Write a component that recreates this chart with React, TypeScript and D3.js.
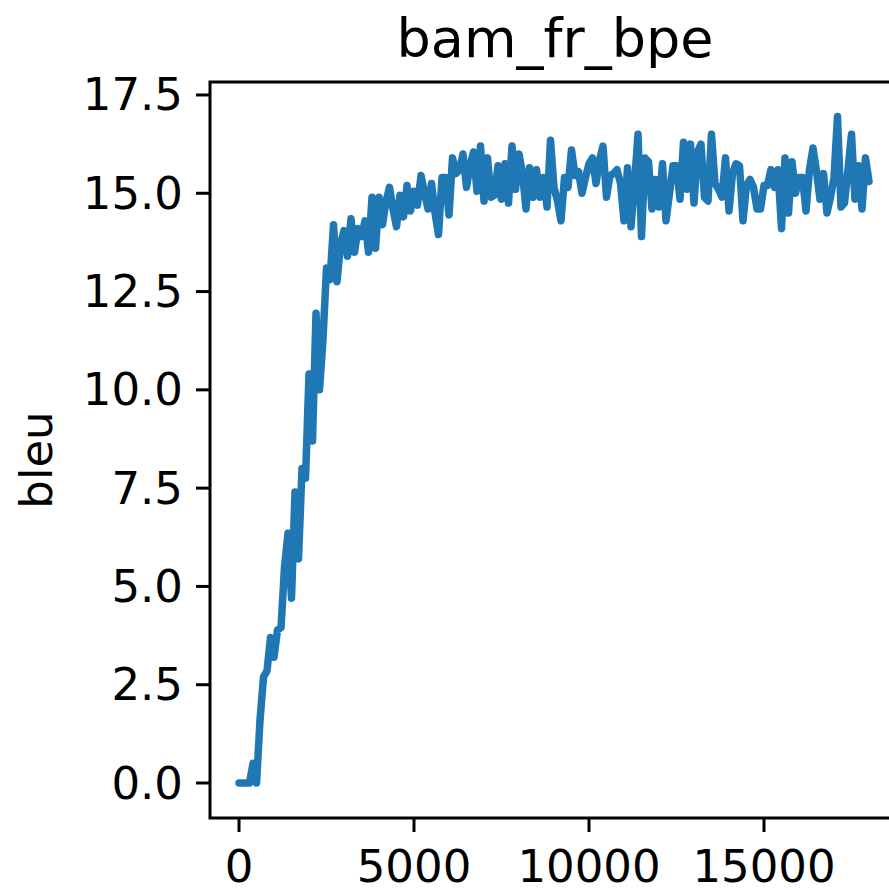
import React from "react";
import * as d3 from "d3";

const title = "bam_fr_bpe";
const yLabel = "bleu";
const xTicks = [0, 5000, 10000, 15000];
const yTicks = [0, 2.5, 5, 7.5, 10, 12.5, 15, 17.5];

const steps = [
  0, 100, 200, 300, 400, 500, 600, 700, 800, 900,
  1000, 1100, 1200, 1300, 1400, 1500, 1600, 1700, 1800, 1900,
  2000, 2100, 2200, 2300, 2400, 2500, 2600, 2700, 2800, 2900,
  3000, 3100, 3200, 3300, 3400, 3500, 3600, 3700, 3800, 3900,
  4000, 4100, 4200, 4300, 4400, 4500, 4600, 4700, 4800, 4900,
  5000, 5100, 5200, 5300, 5400, 5500, 5600, 5700, 5800, 5900,
  6000, 6100, 6200, 6300, 6400, 6500, 6600, 6700, 6800, 6900,
  7000, 7100, 7200, 7300, 7400, 7500, 7600, 7700, 7800, 7900,
  8000, 8100, 8200, 8300, 8400, 8500, 8600, 8700, 8800, 8900,
  9000, 9100, 9200, 9300, 9400, 9500, 9600, 9700, 9800, 9900,
  10000, 10100, 10200, 10300, 10400, 10500, 10600, 10700, 10800, 10900,
  11000, 11100, 11200, 11300, 11400, 11500, 11600, 11700, 11800, 11900,
  12000, 12100, 12200, 12300, 12400, 12500, 12600, 12700, 12800, 12900,
  13000, 13100, 13200, 13300, 13400, 13500, 13600, 13700, 13800, 13900,
  14000, 14100, 14200, 14300, 14400, 14500, 14600, 14700, 14800, 14900,
  15000, 15100, 15200, 15300, 15400, 15500, 15600, 15700, 15800, 15900,
  16000, 16100, 16200, 16300, 16400, 16500, 16600, 16700, 16800, 16900,
  17000, 17100, 17200, 17300, 17400, 17500, 17600, 17700, 17800, 17900,
  18000,
];

const bleu = [
  0, 0, 0, 0, 0.5, 0.0, 1.6, 2.7, 2.85, 3.7,
  3.2, 3.9, 3.95, 5.5, 6.35, 4.7, 7.4, 5.7, 8.0, 7.75,
  10.4, 8.7, 11.95, 10.0, 11.3, 13.1, 12.8, 14.2, 12.75, 13.7,
  14.05, 13.4, 14.35, 13.5, 14.1, 13.9, 14.3, 13.5, 14.9, 13.6,
  14.9, 14.2, 14.8, 15.15, 14.6, 14.15, 14.95, 14.4, 15.2, 14.55,
  15.05, 14.7, 15.45, 15.0, 14.6, 15.25, 14.5, 13.95, 15.4, 15.4,
  14.45, 15.9, 15.5, 15.6, 16.0, 15.15, 15.7, 16.05, 15.05, 16.2,
  14.8, 15.9, 14.9, 14.95, 15.7, 14.85, 15.75, 14.75, 16.2, 15.1,
  16.0, 15.5, 14.6, 15.65, 14.9, 15.6, 14.9, 15.4, 14.65, 16.35,
  15.15, 14.8, 14.3, 15.4, 15.15, 16.1, 15.45, 15.55, 15.0, 15.4,
  15.75, 15.9, 15.25, 15.85, 16.2, 14.9, 15.45, 15.5, 15.6, 15.25,
  14.3, 15.65, 14.15, 15.25, 16.5, 13.9, 15.9, 15.8, 14.6, 15.35,
  14.65, 15.75, 14.3, 15.0, 15.7, 15.7, 14.85, 16.3, 15.1, 16.25,
  14.75, 16.05, 16.25, 14.9, 14.8, 16.5, 15.25, 15.1, 14.9, 15.9,
  14.55, 15.5, 15.75, 15.7, 14.3, 15.2, 15.35, 15.15, 14.6, 14.6,
  15.2, 15.2, 15.6, 15.15, 15.6, 14.1, 15.9, 14.5, 15.8, 15.0,
  15.4, 15.4, 14.55, 15.6, 16.15, 15.55, 14.85, 15.5, 14.5, 14.9,
  15.4, 16.95, 14.65, 14.75, 15.6, 16.5, 14.85, 15.7, 14.6, 15.9,
  15.3,
];

const W = 889;
const H = 890;
const plotLeft = 210;
const plotRight = 900;
const plotTop = 82;
const plotBottom = 818;

export default function App() {
  const x = d3.scaleLinear().domain([-829, 18886]).range([plotLeft, plotRight]);
  const y = d3.scaleLinear().domain([-0.89, 17.83]).range([plotBottom, plotTop]);
  const data = steps.map((s, i) => [s, bleu[i]] as [number, number]);
  const line = d3
    .line<[number, number]>()
    .x((d) => x(d[0]))
    .y((d) => y(d[1]));
  const font = "'DejaVu Sans', sans-serif";
  const tickFs = 45;
  return (
    <svg
      width={W}
      height={H}
      style={{ position: "absolute", left: 0, top: 0, background: "#fff" }}
      fontFamily={font}
    >
      <rect x={0} y={0} width={W} height={H} fill="#fff" />
      <defs>
        <clipPath id="plotClip">
          <rect x={plotLeft} y={plotTop} width={plotRight - plotLeft} height={plotBottom - plotTop} />
        </clipPath>
      </defs>
      <path
        d={line(data) || ""}
        fill="none"
        stroke="#1f77b4"
        strokeWidth={7.5}
        strokeLinejoin="round"
        strokeLinecap="round"
        clipPath="url(#plotClip)"
      />
      <rect
        x={plotLeft}
        y={plotTop}
        width={plotRight - plotLeft}
        height={plotBottom - plotTop}
        fill="none"
        stroke="#000"
        strokeWidth={3}
      />
      {yTicks.map((t) => (
        <g key={"y" + t}>
          <line x1={plotLeft - 14} x2={plotLeft} y1={y(t)} y2={y(t)} stroke="#000" strokeWidth={3} />
          <text
            x={plotLeft - 27}
            y={y(t)}
            textAnchor="end"
            dominantBaseline="central"
            fontSize={tickFs}
            fill="#000"
          >
            {t.toFixed(1)}
          </text>
        </g>
      ))}
      {xTicks.map((t) => (
        <g key={"x" + t}>
          <line x1={x(t)} x2={x(t)} y1={plotBottom} y2={plotBottom + 14} stroke="#000" strokeWidth={3} />
          <text
            x={x(t)}
            y={plotBottom + 64}
            textAnchor="middle"
            fontSize={tickFs}
            fill="#000"
          >
            {t}
          </text>
        </g>
      ))}
      <text
        x={(plotLeft + plotRight) / 2}
        y={57}
        textAnchor="middle"
        fontSize={54}
        fill="#000"
      >
        {title}
      </text>
      <text
        transform={`translate(${52},${460}) rotate(-90)`}
        textAnchor="middle"
        fontSize={45}
        fill="#000"
      >
        {yLabel}
      </text>
    </svg>
  );
}
